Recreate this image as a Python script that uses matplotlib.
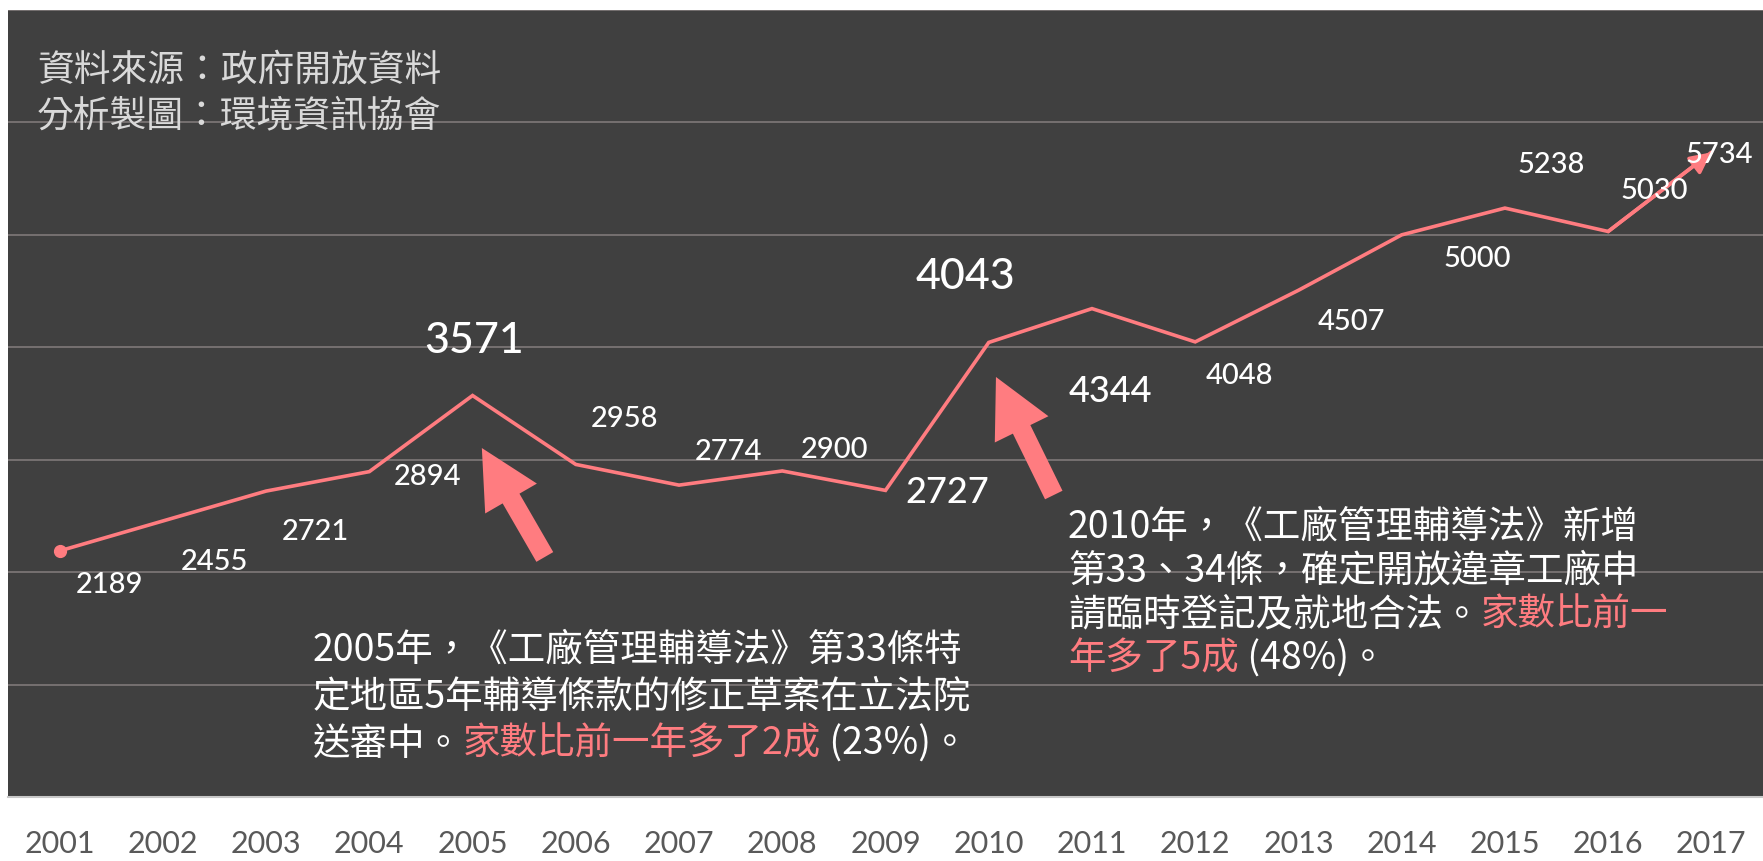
import matplotlib
matplotlib.use("Agg")
import matplotlib.pyplot as plt

# data
years = [str(y) for y in range(2001, 2018)]
counts = [2189, 2455, 2721, 2894, 3571, 2958, 2774, 2900, 2727,
          4043, 4344, 4048, 4507, 5000, 5238, 5030, 5734]

# label placement (offset in px from the point) and size per point
label_offsets = [(50, -34), (52, -41), (49, -41), (58, -5), (2, 55), (49, 45),
                 (49, 33), (52, 21), (62, -2), (-23, 65), (18, -83), (44, -34),
                 (53, -32), (76, -24), (46, 43), (46, 40), (8, -3)]
label_sizes = [21, 21, 21, 21, 31, 21, 21, 21, 26, 31, 26, 21, 21, 21, 21, 21, 21]

source_lines = ["資料來源：政府開放資料", "分析製圖：環境資訊協會"]
note_2005 = [[("2005年，《工廠管理輔導法》第33條特", "w")],
             [("定地區5年輔導條款的修正草案在立法院", "w")],
             [("送審中。", "w"), ("家數比前一年多了2成", "r"), (" (23%)。", "w")]]
note_2010 = [[("2010年，《工廠管理輔導法》新增", "w")],
             [("第33、34條，確定開放違章工廠申", "w")],
             [("請臨時登記及就地合法。", "w"), ("家數比前一", "r")],
             [("年多了5成", "r"), (" (48%)。", "w")]]

BG = "#404040"
RED = "#FF7C80"
GRID = "#767171"
CJK = ["Noto Sans CJK TC", "DejaVu Sans"]
NUM = ["Lato", "DejaVu Sans"]

W, H = 1763, 861
fig = plt.figure(figsize=(W / 100, H / 100), dpi=100)
fig.patch.set_facecolor("white")
ax = fig.add_axes([8 / W, 64 / H, 1 - 8 / W, 787 / H])
ax.set_facecolor(BG)

x = list(range(len(years)))
ax.plot(x, counts, color=RED, lw=2.6, solid_capstyle="round", solid_joinstyle="miter", zorder=3)
ax.plot(x[0], counts[0], "o", color=RED, ms=8.5, zorder=4)
ax.annotate("", xy=(x[-1], counts[-1]), xytext=(x[-2], counts[-2]),
            arrowprops=dict(arrowstyle="-|>,head_length=0.9,head_width=0.45",
                            color=RED, lw=2.6, shrinkA=0, shrinkB=0,
                            mutation_scale=14), zorder=4)

for i, v in enumerate(counts):
    ax.annotate(str(v), xy=(i, v), xytext=label_offsets[i], textcoords="offset pixels",
                ha="center", va="center", color="white", fontsize=label_sizes[i],
                family=NUM, weight="medium", zorder=5)

# big arrows pointing at 2005 and 2010
arrow_style = "simple,head_length=42,head_width=43,tail_width=14"
for tip, tail in [((4.09, 3104), (4.70, 2135)), ((9.07, 3736), (9.63, 2686))]:
    ax.annotate("", xy=tip, xytext=tail,
                arrowprops=dict(arrowstyle=arrow_style, color=RED, lw=0,
                                shrinkA=0, shrinkB=0, mutation_scale=1), zorder=4)

ax.set_xlim(-0.5, len(years) - 0.5)
ax.set_ylim(0, 7000)
ax.set_yticks(range(0, 7001, 1000))
ax.yaxis.grid(True, color=GRID, lw=1.4)
ax.set_axisbelow(True)
ax.tick_params(axis="y", length=0, labelleft=False)
ax.set_xticks(x)
ax.set_xticklabels(years, family=NUM, fontsize=22, color="#595959")
ax.tick_params(axis="x", length=0, pad=24)
for s in ["top", "left", "right"]:
    ax.spines[s].set_visible(False)
ax.spines["bottom"].set_color("#c8c8c8")
ax.spines["bottom"].set_linewidth(1.5)


def px(xp, yp):
    return xp / W, 1 - yp / H


def colored_line(xp, yp, parts, size):
    # first piece placed in figure pixels, the rest chained to its right
    prev = None
    for txt, c in parts:
        col = RED if c == "r" else "white"
        if prev is None:
            prev = fig.text(*px(xp, yp), txt, color=col, fontsize=size, family=CJK,
                            weight="medium", ha="left", va="center")
        else:
            prev = ax.annotate(txt, xy=(1, 0), xycoords=prev, color=col, fontsize=size,
                               family=CJK, weight="medium", ha="left", va="bottom",
                               annotation_clip=False)


for j, line in enumerate(source_lines):
    fig.text(*px(37, 70 + j * 46), line, color="#d9d9d9", fontsize=26.5, family=CJK,
             ha="left", va="center")

for j, parts in enumerate(note_2005):
    colored_line(313, 650 + j * 47, parts, 27)

for j, parts in enumerate(note_2010):
    colored_line(1068, 527 + j * 44, parts, 27)

fig.savefig("out.png", dpi=100, facecolor=fig.get_facecolor())
